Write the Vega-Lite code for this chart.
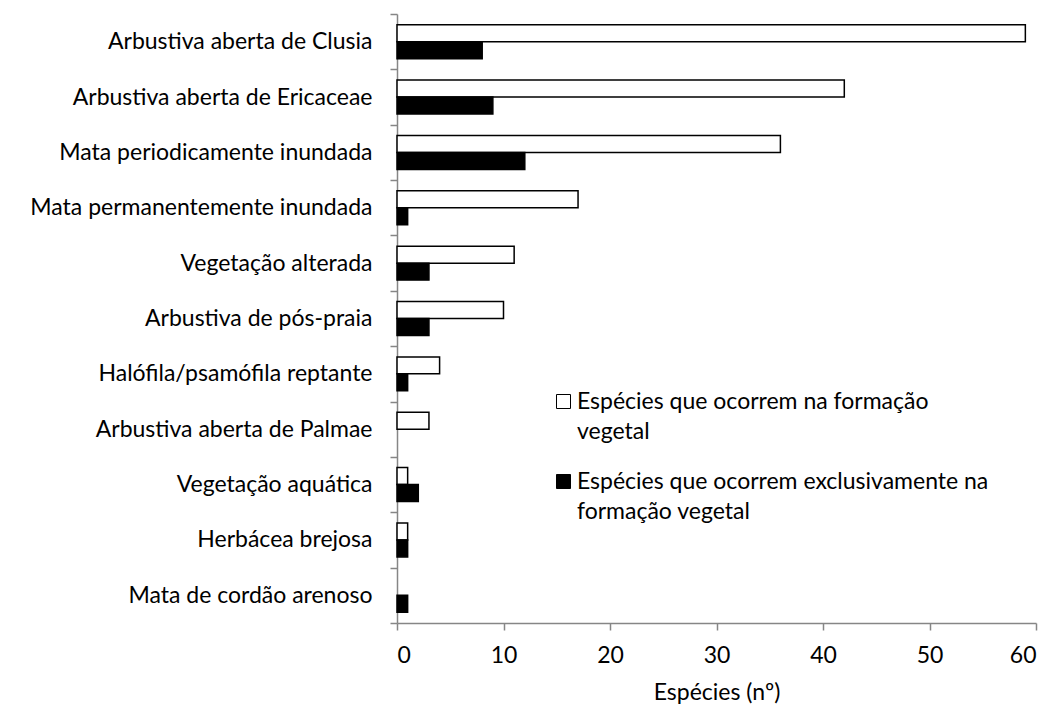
{
  "$schema": "https://vega.github.io/schema/vega-lite/v6.json",
  "width": 639,
  "height": 609,
  "autosize": "none",
  "padding": {"left": 397, "top": 14, "right": 15, "bottom": 95},
  "background": "white",
  "config": {
    "font": "Lato",
    "view": {"stroke": null},
    "style": {"guide-label": {"lineHeight": 30}}
  },
  "data": {
    "values": [
      {"formacao": "Arbustiva aberta de Clusia", "serie": "Espécies que ocorrem na formação vegetal", "n": 59},
      {"formacao": "Arbustiva aberta de Clusia", "serie": "Espécies que ocorrem exclusivamente na formação vegetal", "n": 8},
      {"formacao": "Arbustiva aberta de Ericaceae", "serie": "Espécies que ocorrem na formação vegetal", "n": 42},
      {"formacao": "Arbustiva aberta de Ericaceae", "serie": "Espécies que ocorrem exclusivamente na formação vegetal", "n": 9},
      {"formacao": "Mata periodicamente inundada", "serie": "Espécies que ocorrem na formação vegetal", "n": 36},
      {"formacao": "Mata periodicamente inundada", "serie": "Espécies que ocorrem exclusivamente na formação vegetal", "n": 12},
      {"formacao": "Mata permanentemente inundada", "serie": "Espécies que ocorrem na formação vegetal", "n": 17},
      {"formacao": "Mata permanentemente inundada", "serie": "Espécies que ocorrem exclusivamente na formação vegetal", "n": 1},
      {"formacao": "Vegetação alterada", "serie": "Espécies que ocorrem na formação vegetal", "n": 11},
      {"formacao": "Vegetação alterada", "serie": "Espécies que ocorrem exclusivamente na formação vegetal", "n": 3},
      {"formacao": "Arbustiva de pós-praia", "serie": "Espécies que ocorrem na formação vegetal", "n": 10},
      {"formacao": "Arbustiva de pós-praia", "serie": "Espécies que ocorrem exclusivamente na formação vegetal", "n": 3},
      {"formacao": "Halófila/psamófila reptante", "serie": "Espécies que ocorrem na formação vegetal", "n": 4},
      {"formacao": "Halófila/psamófila reptante", "serie": "Espécies que ocorrem exclusivamente na formação vegetal", "n": 1},
      {"formacao": "Arbustiva aberta de Palmae", "serie": "Espécies que ocorrem na formação vegetal", "n": 3},
      {"formacao": "Arbustiva aberta de Palmae", "serie": "Espécies que ocorrem exclusivamente na formação vegetal", "n": 0},
      {"formacao": "Vegetação aquática", "serie": "Espécies que ocorrem na formação vegetal", "n": 1},
      {"formacao": "Vegetação aquática", "serie": "Espécies que ocorrem exclusivamente na formação vegetal", "n": 2},
      {"formacao": "Herbácea brejosa", "serie": "Espécies que ocorrem na formação vegetal", "n": 1},
      {"formacao": "Herbácea brejosa", "serie": "Espécies que ocorrem exclusivamente na formação vegetal", "n": 1},
      {"formacao": "Mata de cordão arenoso", "serie": "Espécies que ocorrem na formação vegetal", "n": 0},
      {"formacao": "Mata de cordão arenoso", "serie": "Espécies que ocorrem exclusivamente na formação vegetal", "n": 1}
    ]
  },
  "mark": {"type": "bar", "stroke": "black", "strokeWidth": 1.5, "strokeOpacity": 1},
  "encoding": {
    "y": {
      "field": "formacao",
      "type": "nominal",
      "sort": null,
      "scale": {"paddingInner": 0, "paddingOuter": 0},
      "axis": {
        "title": null,
        "tickBand": "extent",
        "labelFontSize": 23,
        "labelColor": "black",
        "labelPadding": 18,
        "labelLimit": 400,
        "tickSize": 7,
        "tickColor": "#868686",
        "domainColor": "#868686",
        "domainWidth": 1.5,
        "tickWidth": 1.5
      }
    },
    "yOffset": {
      "field": "serie",
      "type": "nominal",
      "sort": ["Espécies que ocorrem na formação vegetal", "Espécies que ocorrem exclusivamente na formação vegetal"],
      "scale": {"paddingInner": 0, "paddingOuter": 0.63}
    },
    "x": {
      "field": "n",
      "type": "quantitative",
      "scale": {"domain": [0, 60], "nice": false},
      "axis": {
        "title": "Espécies (nº)",
        "titleFontSize": 23,
        "titleFontWeight": "normal",
        "titleColor": "black",
        "titlePadding": 14,
        "values": [0, 10, 20, 30, 40, 50, 60],
        "grid": false,
        "labelFontSize": 23,
        "labelColor": "black",
        "labelPadding": 14,
        "tickSize": 7,
        "tickColor": "#868686",
        "domainColor": "#868686",
        "domainWidth": 1.5,
        "tickWidth": 1.5
      }
    },
    "fillOpacity": {
      "condition": {"test": "datum.n == 0", "value": 0},
      "value": 1
    },
    "strokeOpacity": {
      "condition": {"test": "datum.n == 0", "value": 0},
      "value": 1
    },
    "fill": {
      "field": "serie",
      "type": "nominal",
      "sort": ["Espécies que ocorrem na formação vegetal", "Espécies que ocorrem exclusivamente na formação vegetal"],
      "scale": {"range": ["white", "black"]},
      "legend": {
        "title": null,
        "orient": "none",
        "legendX": 155,
        "legendY": 376,
        "symbolType": "square",
        "symbolSize": 196,
        "symbolStrokeColor": "black",
        "symbolStrokeWidth": 1,
        "symbolOpacity": 1,
        "labelFontSize": 23,
        "labelColor": "black",
        "labelLimit": 500,
        "labelOffset": 2,
        "rowPadding": 26,
        "labelExpr": "datum.label == 'Espécies que ocorrem na formação vegetal' ? ['Espécies que ocorrem na formação', 'vegetal'] : ['Espécies que ocorrem exclusivamente na', 'formação vegetal']"
      }
    }
  }
}
